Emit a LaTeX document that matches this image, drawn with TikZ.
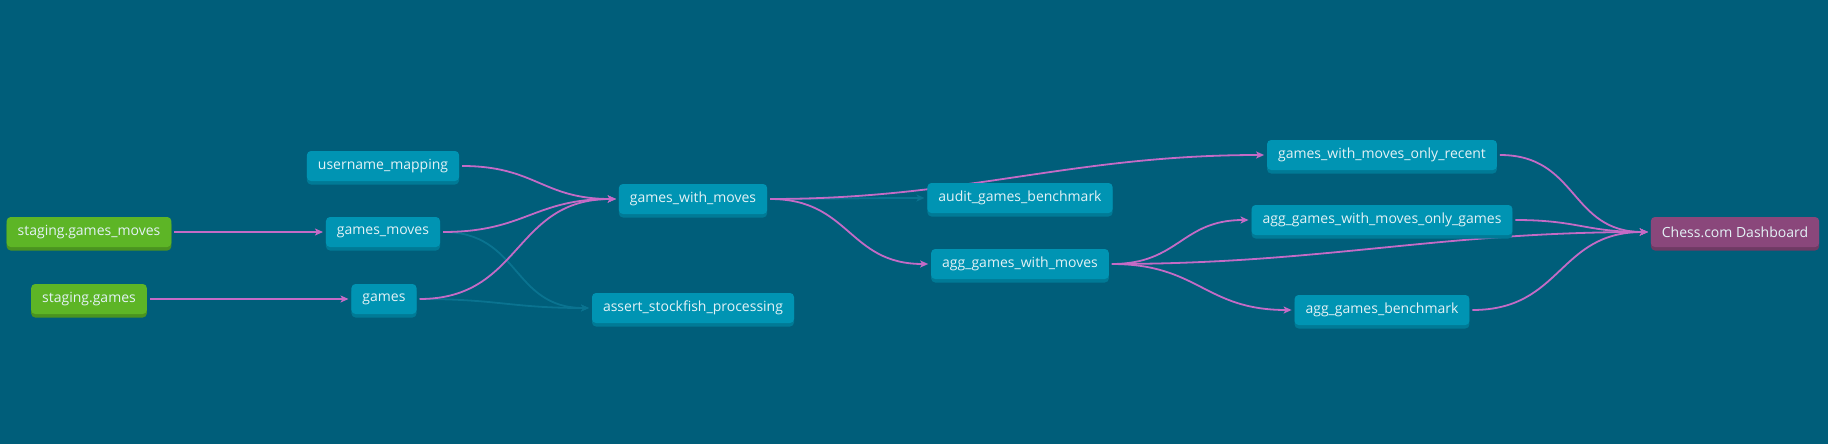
\documentclass[tikz,border=0pt]{standalone}
\usepackage{fontspec}
\setmainfont{Open Sans}
\usetikzlibrary{arrows.meta, shadows}
\definecolor{canvas}{HTML}{005E7A}
\definecolor{modelfill}{HTML}{0094B3}
\definecolor{modelshade}{HTML}{007A96}
\definecolor{sourcefill}{HTML}{5DB526}
\definecolor{sourceshade}{HTML}{4A9320}
\definecolor{exposfill}{HTML}{8A477B}
\definecolor{exposshade}{HTML}{6F3A64}
\definecolor{lineage}{HTML}{C46BC6}
\definecolor{testline}{HTML}{0A7390}
\definecolor{labeltext}{HTML}{E4F2F6}
\pgfdeclarelayer{background}
\pgfsetlayers{background,main}
\begin{document}
\begin{tikzpicture}[x=1pt,y=-1pt,nodebox/.style={rounded corners=4pt,text=labeltext,font=\fontsize{14}{16}\selectfont,inner xsep=11pt,inner ysep=0pt,minimum height=30pt,outer sep=3pt},modelbox/.style={nodebox,fill=modelfill,general shadow={fill=modelshade,shadow yshift=-3.5pt}},sourcebox/.style={nodebox,fill=sourcefill,general shadow={fill=sourceshade,shadow yshift=-3.5pt}},exposbox/.style={nodebox,fill=exposfill,general shadow={fill=exposshade,shadow yshift=-3.5pt}},arrow/.style={line width=1.8pt,lineage,-{Stealth[length=8pt,width=7pt,inset=2pt]},looseness=1.2},testarrow/.style={arrow,testline}]
\useasboundingbox (0,0) rectangle (1828,444);
\node[sourcebox] (stgmoves) at (89,232) {staging.games\_moves};
\node[sourcebox] (stggames) at (89,299) {staging.games};
\node[modelbox] (usermap) at (383,166) {username\_mapping};
\node[modelbox] (moves) at (383,232) {games\_moves};
\node[modelbox] (games) at (384,299) {games};
\node[modelbox] (gwm) at (693,199) {games\_with\_moves};
\node[modelbox] (assertsf) at (693,308) {assert\_stockfish\_processing};
\node[modelbox] (audit) at (1020,198) {audit\_games\_benchmark};
\node[modelbox] (agggwm) at (1020,264) {agg\_games\_with\_moves};
\node[modelbox] (recent) at (1382,155) {games\_with\_moves\_only\_recent};
\node[modelbox] (onlygames) at (1382,220) {agg\_games\_with\_moves\_only\_games};
\node[modelbox] (aggbench) at (1382,310) {agg\_games\_benchmark};
\node[exposbox] (dash) at (1735,232) {Chess.com Dashboard};
\begin{pgfonlayer}{background}
\fill[canvas] (0,0) rectangle (1828,444);
% tests in faint lines
\draw[testarrow] (moves.east) to[out=0,in=180] (assertsf.west);
\draw[testarrow] (games.east) to[out=0,in=180] (assertsf.west);
\draw[testarrow] (gwm.east) to[out=0,in=180] (audit.west);
% lineage
\draw[arrow] (stgmoves.east) -- (moves.west);
\draw[arrow] (stggames.east) -- (games.west);
\draw[arrow] (usermap.east) to[out=0,in=180] (gwm.west);
\draw[arrow] (moves.east) to[out=0,in=180] (gwm.west);
\draw[arrow] (games.east) to[out=0,in=180] (gwm.west);
\draw[arrow] (gwm.east) to[out=0,in=180,looseness=1] (recent.west);
\draw[arrow] (gwm.east) to[out=0,in=180] (agggwm.west);
\draw[arrow] (agggwm.east) to[out=0,in=180] (onlygames.west);
\draw[arrow] (agggwm.east) to[out=0,in=180,looseness=1] (dash.west);
\draw[arrow] (agggwm.east) to[out=0,in=180] (aggbench.west);
\draw[arrow] (recent.east) to[out=0,in=180] (dash.west);
\draw[arrow] (onlygames.east) to[out=0,in=180] (dash.west);
\draw[arrow] (aggbench.east) to[out=0,in=180] (dash.west);
\end{pgfonlayer}
\end{tikzpicture}
\end{document}
